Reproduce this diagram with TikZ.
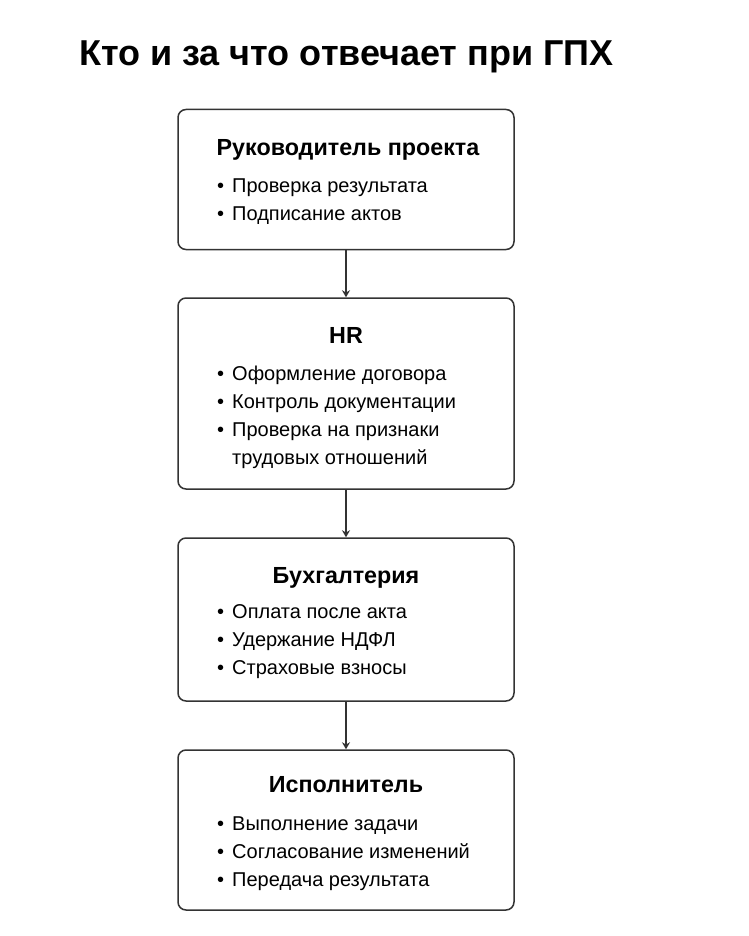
\documentclass[tikz,border=0pt]{standalone}
\usepackage{fontspec}
\setmainfont{Liberation Sans}
\usetikzlibrary{arrows.meta}
\definecolor{edge}{HTML}{333333}
\newcommand{\blt}{•\hspace{8pt}}
\tikzset{
  box/.style={draw=edge, line width=1.5pt, rounded corners=8pt, minimum width=336pt, inner sep=0pt, fill=white},
  head/.style={anchor=base, inner sep=0pt, font=\fontsize{23.3}{27}\selectfont\bfseries},
  item/.style={anchor=base west, inner sep=0pt, font=\fontsize{20}{24}\selectfont},
  conn/.style={draw=edge, line width=1.5pt, -{Stealth[length=7pt,width=8pt]}},
  ttl/.style={anchor=base west, inner sep=0pt, font=\fontsize{36}{42}\selectfont\bfseries}
}
\begin{document}
\begin{tikzpicture}[x=1pt,y=-1pt]
\useasboundingbox[fill=white] (0,0) rectangle (748,936);
\node[ttl] (title) at (79,66) {Кто и за что отвечает при ГПХ};

\node[box, minimum height=140pt] (b1) at (346,179.5) {};
\node[box, minimum height=191pt] (b2) at (346,393.5) {};
\node[box, minimum height=163pt] (b3) at (346,619.5) {};
\node[box, minimum height=160pt] (b4) at (346,830) {};

\draw[conn] (b1.south) -- (b2.north);
\draw[conn] (b2.south) -- (b3.north);
\draw[conn] (b3.south) -- (b4.north);

\node[head] (h1) at (348,156) {Руководитель проекта};
\node[item] (i11) at (217,193) {\blt Проверка результата};
\node[item] (i12) at (217,220) {\blt Подписание актов};

\node[head] (h2) at (346,343) {HR};
\node[item] (i21) at (217,380) {\blt Оформление договора};
\node[item] (i22) at (217,408) {\blt Контроль документации};
\node[item] (i23) at (217,436) {\blt Проверка на признаки};
\node[item] (i24) at (232,464) {трудовых отношений};

\node[head] (h3) at (346,583) {Бухгалтерия};
\node[item] (i31) at (217,618) {\blt Оплата после акта};
\node[item] (i32) at (217,646) {\blt Удержание НДФЛ};
\node[item] (i33) at (217,674) {\blt Страховые взносы};

\node[head] (h4) at (346,792) {Исполнитель};
\node[item] (i41) at (217,830) {\blt Выполнение задачи};
\node[item] (i42) at (217,858) {\blt Согласование изменений};
\node[item] (i43) at (217,886) {\blt Передача результата};
\end{tikzpicture}
\end{document}
